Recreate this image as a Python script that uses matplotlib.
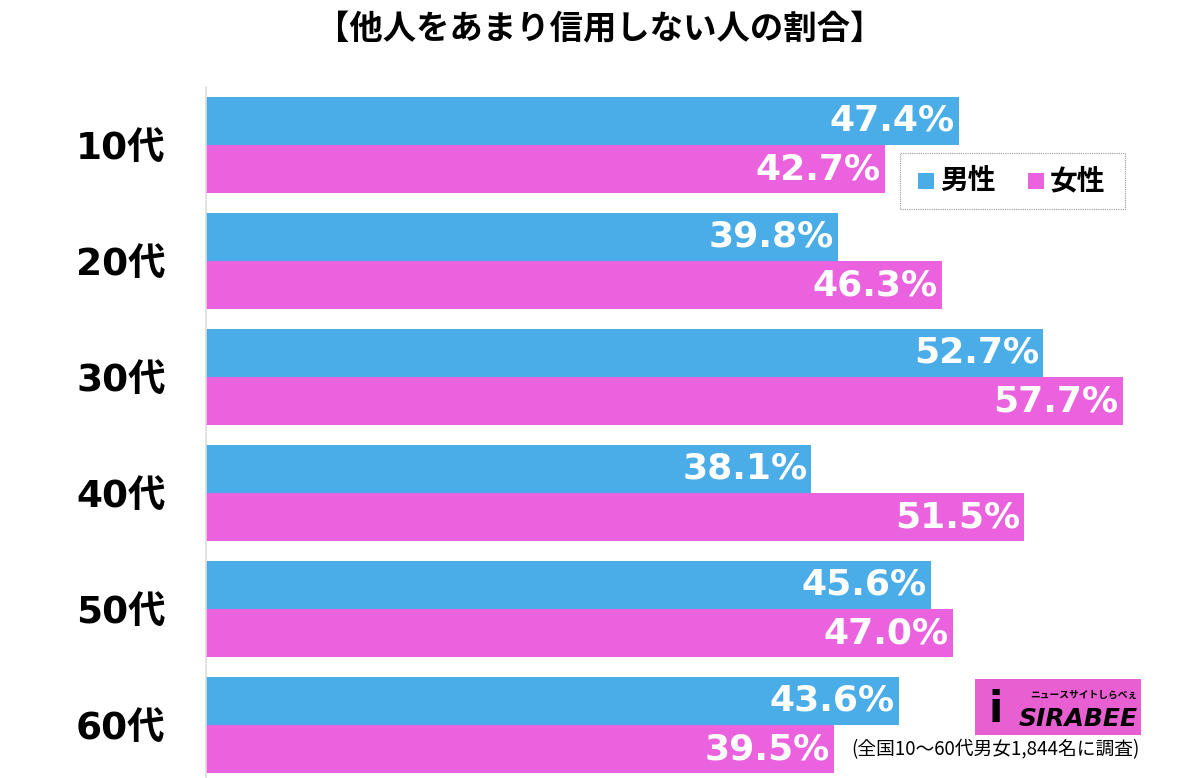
import matplotlib
matplotlib.use("Agg")
import matplotlib.pyplot as plt
from matplotlib.patches import Rectangle

categories = ["10代", "20代", "30代", "40代", "50代", "60代"]
male = [47.4, 39.8, 52.7, 38.1, 45.6, 43.6]
female = [42.7, 46.3, 57.7, 51.5, 47.0, 39.5]
series_names = ["男性", "女性"]
title = "【他人をあまり信用しない人の割合】"
note = "(全国10〜60代男女1,844名に調査)"

BLUE = "#4BADE8"
PINK = "#EA62DD"
CJK = ["Noto Sans CJK JP", "DejaVu Sans"]
NUM = ["DejaVu Sans", "Noto Sans CJK JP"]

fig = plt.figure(figsize=(12, 7.78), dpi=100)
W, H = 1200, 778
ax = fig.add_axes([206 / W, 0, (1200 - 206) / W, (778 - 87) / H])

h = 0.414
y = list(range(len(categories)))
ax.barh([i - h / 2 for i in y], male, height=h, color=BLUE)
ax.barh([i + h / 2 for i in y], female, height=h, color=PINK)

for i in y:
    ax.annotate(f"{male[i]:.1f}%", (male[i], i - h / 2), xytext=(-3, 0),
                textcoords="offset points", ha="right", va="center",
                color="white", fontsize=26, fontweight="bold", family=NUM)
    ax.annotate(f"{female[i]:.1f}%", (female[i], i + h / 2), xytext=(-3, 0),
                textcoords="offset points", ha="right", va="center",
                color="white", fontsize=26, fontweight="bold", family=NUM)

ax.set_xlim(0, (1200 - 206) / 15.89)
ax.set_ylim(5.457, -0.5)
ax.set_yticks(y)
ax.set_yticklabels(categories, family=NUM, fontsize=27, fontweight="bold")
ax.tick_params(axis="y", length=0, pad=29)
ax.set_xticks([])
for s in ["top", "right", "bottom"]:
    ax.spines[s].set_visible(False)
ax.spines["left"].set_color("#dddddd")
ax.spines["left"].set_linewidth(1.2)

# title
fig.text(0.5, 1 - 30 / H, title, ha="center", va="center", fontsize=24,
         fontweight="bold", family=CJK)

# legend box
lx0, ly0, lx1, ly1 = 900, 153, 1125, 209
fig.patches.append(Rectangle((lx0 / W, 1 - ly1 / H), (lx1 - lx0) / W, (ly1 - ly0) / H,
                             transform=fig.transFigure, facecolor="white",
                             edgecolor="#999999", linestyle=(0, (1, 1)), linewidth=0.8))
ymid = 1 - 181 / H
for xs, col, name in [(918, BLUE, series_names[0]), (1028, PINK, series_names[1])]:
    fig.patches.append(Rectangle((xs / W, ymid - 8 / H), 16 / W, 16 / H,
                                 transform=fig.transFigure, facecolor=col, edgecolor="none"))
    fig.text((xs + 22) / W, ymid, name, ha="left", va="center", fontsize=20,
             fontweight="bold", family=CJK)

# logo
fig.patches.append(Rectangle((975 / W, 1 - 735 / H), 166 / W, 56 / H,
                             transform=fig.transFigure, facecolor="#E85FD2", edgecolor="none"))
fig.text(1078 / W, 1 - 719 / H, "SIRABEE", ha="center", va="center", fontsize=18,
         fontweight="bold", style="italic", family=["DejaVu Sans"], color="black")
fig.text(996 / W, 1 - 710 / H, "i", ha="center", va="center", fontsize=30,
         fontweight="bold", family=["DejaVu Sans"], color="black")
fig.text(1084 / W, 1 - 695 / H, "ニュースサイトしらべぇ", ha="center", va="center", fontsize=7,
         fontweight="bold", family=CJK, color="black")

# note
fig.text(1140 / W, 1 - 750 / H, note, ha="right", va="center", fontsize=13.5, family=CJK)

fig.savefig("out.png", dpi=100)
